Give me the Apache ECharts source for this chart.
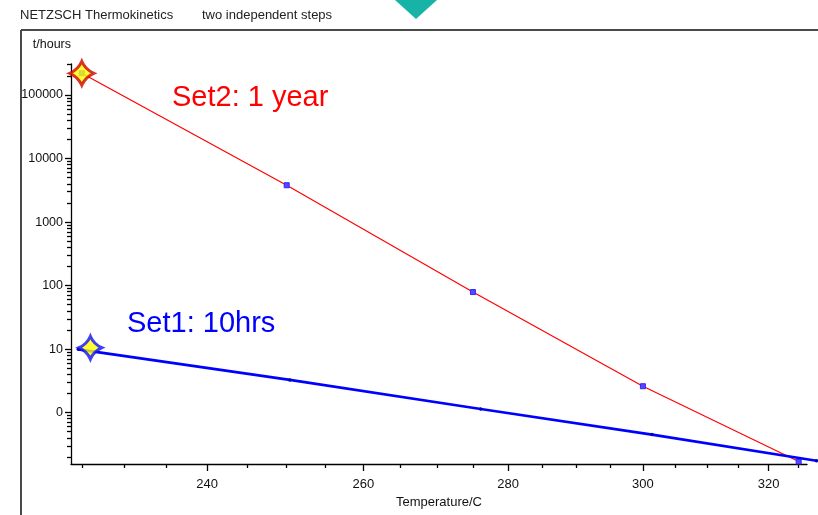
<!DOCTYPE html>
<html>
<head>
<meta charset="utf-8">
<script src="https://cdn.jsdelivr.net/npm/echarts@6/dist/echarts.min.js"></script>
<style>
  html, body { margin: 0; padding: 0; background: #fff; }
  #chart { width: 818px; height: 515px; }
</style>
</head>
<body>
<div id="chart"></div>
<script>
// Lifetime prediction for two independent steps (Arrhenius plot)
const SET1_TEMPS = [224.6, 250.4, 276.1, 301.4, 328];
const SET1_HOURS = [9.9, 3.27, 1.14, 0.45, 0.174];
const SET2_TEMPS = [225, 250, 275, 300, 325];
const SET2_HOURS = [220000, 3800, 79, 2.6, 0.17];
const SET1_STAR = [226, 10.5];
const SET2_STAR = [225, 220000];

const X_MAJOR_TEMPS = [240, 260, 280, 300, 320];
const X_TICK_LABELS = ['240', '260', '280', '300', '320'];
const X_MINOR_TEMPS = [225, 230, 235, 245, 250, 255, 265, 270, 275, 285, 290, 295, 305, 310, 315, 325];
const Y_MAJOR_HOURS = [1, 10, 100, 1000, 10000, 100000];
const Y_TICK_LABELS = ['0', '10', '100', '1000', '10000', '100000'];

// Axis ranges
const T_MIN = 223.75, T_MAX = 326.4;
const H_MIN = 0.155, H_MAX = 308000;

// Reciprocal-temperature scale for x, decimal log for y
const invT = t => -1000 / (t + 273.15);
const lg = h => Math.log10(h);

const yMinor = [];
for (let d = -1; d <= 5; d++) {
  for (let k = 2; k <= 9; k++) {
    const v = k * Math.pow(10, d);
    if (v > H_MIN && v < H_MAX) yMinor.push(lg(v));
  }
}

const toPts = (ts, hs) => ts.map((t, i) => [invT(t), lg(hs[i])]);

const FONT = '"Liberation Sans", Arial, sans-serif';
// four-pointed star with concave sides
const starPath = 'path://M10,0 Q13,7 20,10 Q13,13 10,20 Q7,13 0,10 Q7,7 10,0 Z';

// Main plot box, and a wider twin box with the same scale so that
// the Set1 line may run past the right end of the temperature axis.
const GRID_LEFT = 71, GRID_RIGHT = 11, GRID_TOP = 64, GRID_BOTTOM = 51, CHART_W = 818;
const X0 = invT(T_MIN), X1 = invT(T_MAX);
const mainW = CHART_W - GRID_LEFT - GRID_RIGHT;
const wideW = CHART_W - GRID_LEFT;
const X1_WIDE = X0 + (X1 - X0) * wideW / mainW;

const xCommon = {
  type: 'value', position: 'bottom', offset: 0, gridIndex: 0,
  min: X0, max: X1,
  splitLine: { show: false }
};
const yCommon = {
  type: 'value', position: 'left', offset: 0, gridIndex: 0,
  min: lg(H_MIN), max: lg(H_MAX),
  splitLine: { show: false }
};
const hidden = {
  axisLine: { show: false, onZero: false }, axisTick: { show: false },
  axisLabel: { show: false }, splitLine: { show: false }
};

const option = {
  animation: false,
  backgroundColor: '#fff',
  grid: [
    { left: GRID_LEFT, right: GRID_RIGHT, top: GRID_TOP, bottom: GRID_BOTTOM },
    { left: GRID_LEFT, right: 0, top: GRID_TOP, bottom: GRID_BOTTOM }
  ],
  xAxis: [
    Object.assign({}, xCommon, {
      name: 'Temperature/C', nameLocation: 'middle', nameGap: 30,
      nameTextStyle: { fontFamily: FONT, fontSize: 13, color: '#111' },
      axisLine: { show: true, onZero: false, lineStyle: { color: '#000', width: 1.3 } },
      axisTick: { show: true, length: 7, customValues: X_MAJOR_TEMPS.map(invT), lineStyle: { color: '#000', width: 1.3 } },
      axisLabel: {
        show: true, margin: 14, fontFamily: FONT, fontSize: 13, color: '#111',
        customValues: X_MAJOR_TEMPS.map(invT),
        formatter: v => {
          const t = -1000 / v - 273.15;
          const i = X_MAJOR_TEMPS.findIndex(m => Math.abs(m - t) < 0.5);
          return i >= 0 ? X_TICK_LABELS[i] : '';
        }
      }
    }),
    Object.assign({}, xCommon, {
      axisLine: { show: false, onZero: false },
      axisTick: { show: true, length: 4, customValues: X_MINOR_TEMPS.map(invT), lineStyle: { color: '#000', width: 1.3 } },
      axisLabel: { show: false }
    }),
    Object.assign({}, xCommon, hidden, { gridIndex: 1, max: X1_WIDE })
  ],
  yAxis: [
    Object.assign({}, yCommon, {
      name: 't/hours', nameLocation: 'end', nameGap: 13,
      nameTextStyle: { fontFamily: FONT, fontSize: 12.5, color: '#111', align: 'right' },
      axisLine: { show: true, onZero: false, lineStyle: { color: '#000', width: 1.3 } },
      axisTick: { show: true, length: 6, customValues: Y_MAJOR_HOURS.map(lg), lineStyle: { color: '#000', width: 1.3 } },
      axisLabel: {
        show: true, margin: 8, fontFamily: FONT, fontSize: 12.5, color: '#111',
        customValues: Y_MAJOR_HOURS.map(lg),
        formatter: v => {
          const i = Y_MAJOR_HOURS.findIndex(m => Math.abs(lg(m) - v) < 1e-6);
          return i >= 0 ? Y_TICK_LABELS[i] : '';
        }
      }
    }),
    Object.assign({}, yCommon, {
      axisLine: { show: false, onZero: false },
      axisTick: { show: true, length: 4, customValues: yMinor, lineStyle: { color: '#000', width: 1.3 } },
      axisLabel: { show: false }
    }),
    Object.assign({}, yCommon, hidden, { gridIndex: 1 })
  ],
  series: [
    {
      name: 'Set2', type: 'line', xAxisIndex: 0, yAxisIndex: 0,
      data: toPts(SET2_TEMPS, SET2_HOURS),
      clip: false, z: 3,
      symbol: 'rect', symbolSize: 5, showSymbol: true,
      lineStyle: { color: '#ff0000', width: 1.2 },
      itemStyle: { color: '#5a46ff', borderColor: '#2a2aff', borderWidth: 1 }
    },
    {
      name: 'Set1', type: 'line', xAxisIndex: 2, yAxisIndex: 2,
      data: toPts(SET1_TEMPS, SET1_HOURS),
      clip: false, z: 4,
      symbol: 'circle', symbolSize: 3.5, showSymbol: true,
      lineStyle: { color: '#0000ff', width: 2.6 },
      itemStyle: { color: '#0000b8' }
    },
    {
      name: 'Set2 start', type: 'scatter', xAxisIndex: 0, yAxisIndex: 0,
      data: [[invT(SET2_STAR[0]), lg(SET2_STAR[1])]],
      clip: false, z: 6,
      symbol: starPath, symbolSize: 24,
      itemStyle: { color: '#ffff00', borderColor: '#d00000', borderWidth: 3 }
    },
    {
      name: 'Set1 start', type: 'scatter', xAxisIndex: 0, yAxisIndex: 0,
      data: [[invT(SET1_STAR[0]), lg(SET1_STAR[1])]],
      clip: false, z: 6,
      symbol: starPath, symbolSize: 23,
      itemStyle: { color: '#ffff00', borderColor: '#1010ff', borderWidth: 3 }
    }
  ],
  graphic: [
    { type: 'line', shape: { x1: 21, y1: 30, x2: 818, y2: 30 }, style: { stroke: '#4a4a4a', lineWidth: 2 } },
    { type: 'line', shape: { x1: 21, y1: 30, x2: 21, y2: 515 }, style: { stroke: '#4a4a4a', lineWidth: 2 } },
    { type: 'polygon', shape: { points: [[395, 0], [437, 0], [416, 19]] }, style: { fill: '#16b3a6' } },
    { type: 'text', x: 20, y: 15, style: { text: 'NETZSCH Thermokinetics', font: '13px ' + FONT, fill: '#222', verticalAlign: 'middle' } },
    { type: 'text', x: 202, y: 15, style: { text: 'two independent steps', font: '13px ' + FONT, fill: '#222', verticalAlign: 'middle' } },
    { type: 'text', x: 172, y: 98, style: { text: 'Set2: 1 year', font: '29px ' + FONT, fill: '#ff0000', verticalAlign: 'middle' } },
    { type: 'text', x: 127, y: 324, style: { text: 'Set1: 10hrs', font: '29px ' + FONT, fill: '#0000ff', verticalAlign: 'middle' } }
  ]
};

const chart = echarts.init(document.getElementById('chart'), null, { renderer: 'canvas' });
chart.setOption(option);
</script>
</body>
</html>
